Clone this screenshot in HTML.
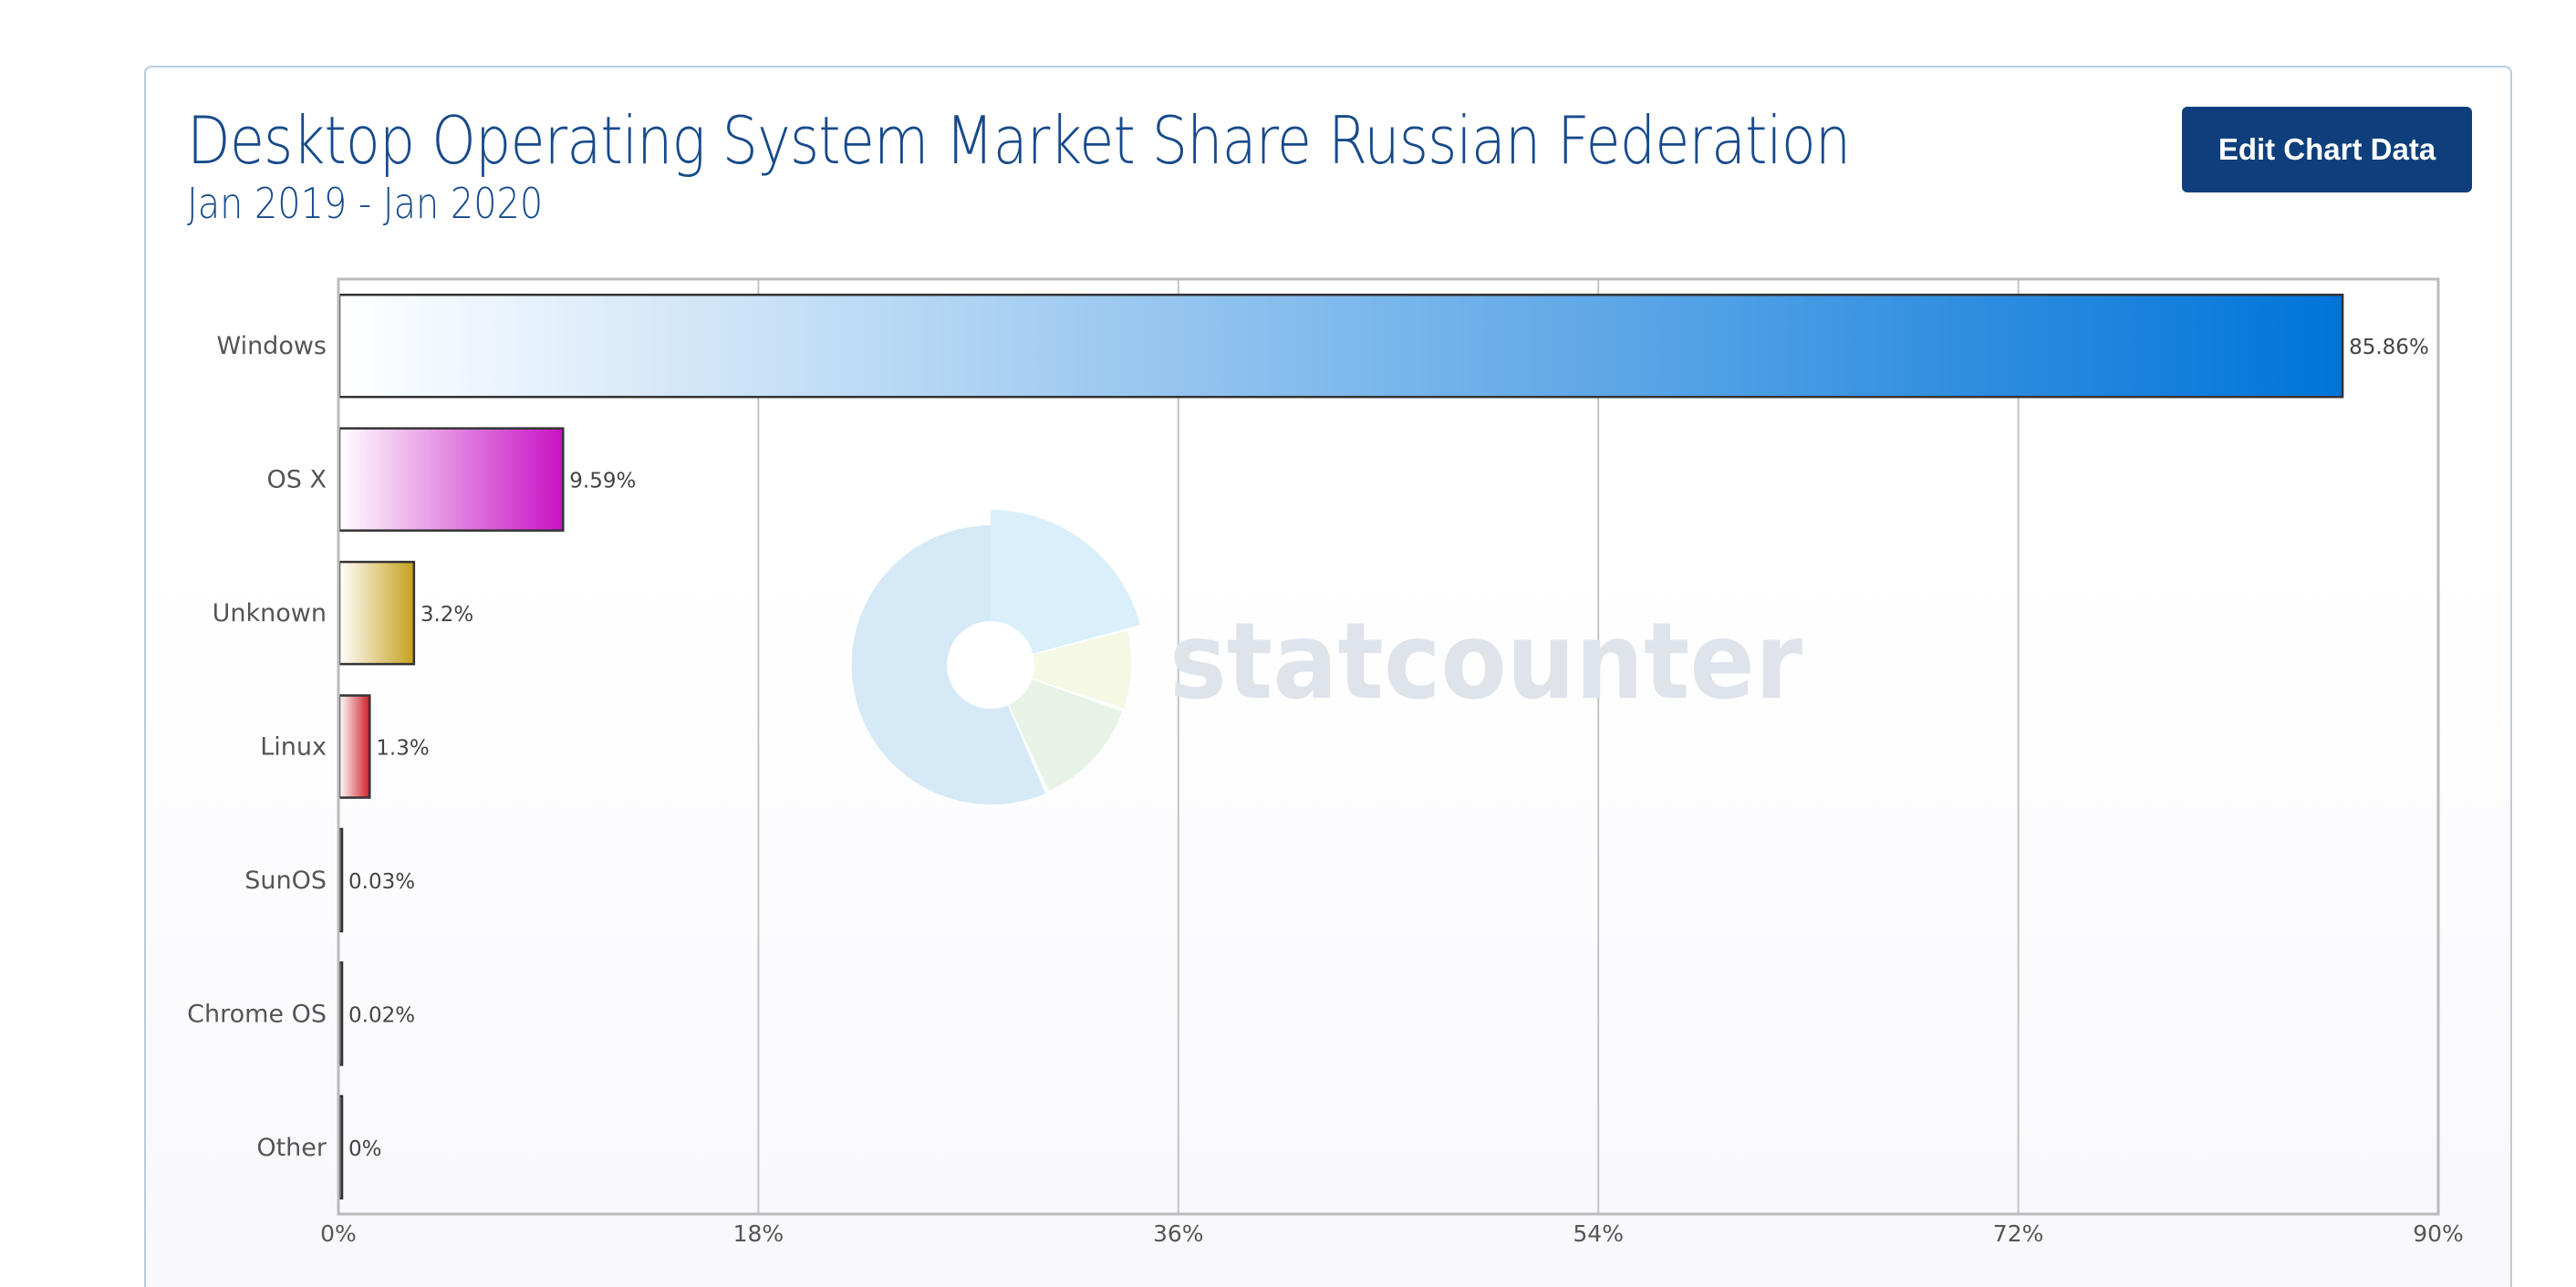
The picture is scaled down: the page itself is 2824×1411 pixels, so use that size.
<!DOCTYPE html>
<html><head><meta charset="utf-8">
<style>
html,body{margin:0;padding:0;background:#fff;width:2824px;height:1411px;overflow:hidden;font-family:"Liberation Sans",sans-serif;}
#card{position:absolute;left:158px;top:72px;width:2596px;height:1339px;border:2px solid #b8cde0;border-bottom:none;border-radius:8px 8px 0 0;box-sizing:border-box;background:linear-gradient(#ffffff 0%,#ffffff 40%,#f8f8fd 100%);}
#title{position:absolute;left:205px;top:112px;font-size:72px;color:#174a8b;font-family:"DejaVu Sans","Liberation Sans",sans-serif;font-weight:200;letter-spacing:-1px;white-space:nowrap;transform:scaleX(0.86);transform-origin:left;}
#subtitle{position:absolute;left:205px;top:196px;font-size:46px;color:#174a8b;font-family:"DejaVu Sans","Liberation Sans",sans-serif;font-weight:200;white-space:nowrap;transform:scaleX(0.865);transform-origin:left;}
#btn{position:absolute;left:2392px;top:117px;width:318px;height:94px;background:#0e3f7c;color:#fff;border-radius:6px;font-size:33px;font-weight:bold;display:flex;align-items:center;justify-content:center;}
svg{position:absolute;left:0;top:0;}
</style></head><body>
<div id="card"></div>
<div id="title">Desktop Operating System Market Share Russian Federation</div>
<div id="subtitle">Jan 2019 - Jan 2020</div>
<div id="btn">Edit Chart Data</div>
<svg id="chart" width="2824" height="1411">
<defs>
<linearGradient id="g0"><stop offset="0" stop-color="#fff"/><stop offset="1" stop-color="#0074d9"/></linearGradient>
<linearGradient id="g1"><stop offset="0" stop-color="#fff"/><stop offset="1" stop-color="#c812c4"/></linearGradient>
<linearGradient id="g2"><stop offset="0" stop-color="#fff"/><stop offset="1" stop-color="#c6a01c"/></linearGradient>
<linearGradient id="g3"><stop offset="0" stop-color="#fff"/><stop offset="1" stop-color="#cf1f28"/></linearGradient>
<linearGradient id="g4"><stop offset="0" stop-color="#fff"/><stop offset="1" stop-color="#333"/></linearGradient>
</defs>
<g id="grid"></g>
<g id="watermark">
<path d="M1086 729 L1086 559 A170 170 0 0 1 1250 685 Z" fill="#d9f0fb"/>
<path d="M1086 729 L1236 692 A155 155 0 0 1 1232 776 Z" fill="#f5f8e3"/>
<path d="M1086 729 L1230 780 A152 152 0 0 1 1150 867 Z" fill="#e6f3e6"/>
<path d="M1086 729 L1146 870 A153 153 0 1 1 1086 576 Z" fill="#d6e9f6"/>
<circle cx="1086" cy="729" r="48" fill="#fff"/>
<text x="1282" y="765" font-size="116" font-weight="bold" fill="#dfe4eb" font-family="DejaVu Sans,Liberation Sans,sans-serif" textLength="694" lengthAdjust="spacingAndGlyphs">statcounter</text>
</g>
<g id="bars"></g>
<rect x="371" y="306" width="2302" height="1025" fill="none" stroke="#bbb" stroke-width="3"/>
<g id="labels"></g>
</svg>
<script>
const categories=["Windows","OS X","Unknown","Linux","SunOS","Chrome OS","Other"];
const values=[85.86,9.59,3.2,1.3,0.03,0.02,0];
const valueLabels=["85.86%","9.59%","3.2%","1.3%","0.03%","0.02%","0%"];
const ticks=[0,18,36,54,72,90];
const tickLabels=["0%","18%","36%","54%","72%","90%"];
const NS="http://www.w3.org/2000/svg";
const X0=371,X1=2673,Y0=306,Y1=1331,XMAX=90;
const x=v=>X0+(v/XMAX)*(X1-X0);
const band=(Y1-Y0)/categories.length;
const y=i=>Y0+band*(i+0.5);
const grads=["g0","g1","g2","g3","g4","g4","g4"];
function mk(t,a,p){const e=document.createElementNS(NS,t);for(const k in a)e.setAttribute(k,a[k]);p.appendChild(e);return e;}
const G=document.getElementById('grid'),B=document.getElementById('bars'),L=document.getElementById('labels');
ticks.forEach((t,i)=>{
  const ln=mk('line',{x1:x(t),x2:x(t),y1:Y0,y2:Y1,stroke:'#c4c4c4','stroke-width':2},G);
  
  
  const tx=mk('text',{x:x(t),y:1361,'text-anchor':'middle','font-size':25,fill:'#555','font-family':'DejaVu Sans,sans-serif'},L);
  tx.textContent=tickLabels[i];
  
  
});
categories.forEach((c,i)=>{
  const cy=y(i),h=112,w=Math.max(x(values[i])-X0,3);
  const r=mk('rect',{x:X0+1,y:cy-h/2,width:w,height:h,fill:'url(#'+grads[i]+')',stroke:'#333','stroke-width':2.5},B);
  
  
  const cl=mk('text',{x:358,y:cy+9,'text-anchor':'end','font-size':27,fill:'#555','font-family':'DejaVu Sans,sans-serif'},L);
  cl.textContent=c;
  
  
  const vl=mk('text',{x:X0+w+8,y:cy+9,'font-size':23,fill:'#444','font-family':'DejaVu Sans,sans-serif'},L);
  vl.textContent=valueLabels[i];
  
  
});
</script>
</body></html>
